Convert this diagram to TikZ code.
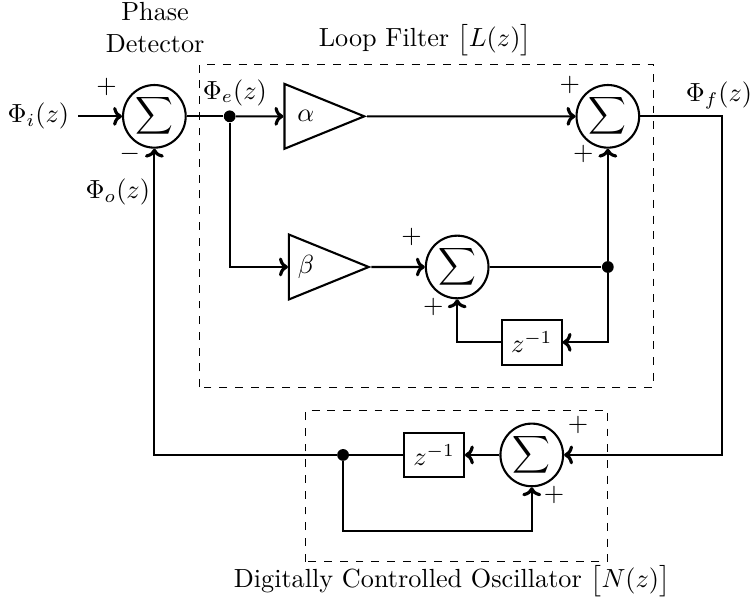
\documentclass[tikz,border=0pt]{standalone}
\usetikzlibrary{shapes.geometric,positioning,arrows.meta}
\tikzset{
  sumnode/.style={draw,circle,thick,minimum size=0.84cm,inner sep=0pt},
  gain/.style={draw,thick,isosceles triangle,isosceles triangle stretches,
    minimum width=0.87cm,minimum height=1.07cm,inner sep=1pt,anchor=west},
  delay/.style={draw,thick,minimum width=0.8cm,minimum height=0.6cm},
  tap/.style={circle,fill,inner sep=0pt,minimum size=4.5pt},
  frame/.style={draw,dashed},
  sgn/.style={inner sep=1pt},
  >={To[length=3.4pt,width=7.2pt,line width=1.2pt]}
}
\newcommand{\sumsign}{$\displaystyle\sum$}
\begin{document}
\begin{tikzpicture}
\useasboundingbox (0,0) rectangle (10.11,8.17);
% blocks
\node[sumnode] (pd) at (2.07,6.61) {\sumsign};
\node[gain] (alpha) at (3.80,6.61) {$\alpha$};
\node[sumnode] (sumf) at (8.15,6.61) {\sumsign};
\node[gain] (beta) at (3.86,4.59) {$\beta$};
\node[sumnode] (sumi) at (6.13,4.59) {\sumsign};
\node[delay] (dly1) at (7.13,3.58) {$z^{-1}$};
\node[sumnode] (sumd) at (7.13,2.07) {\sumsign};
\node[delay] (dly2) at (5.82,2.07) {$z^{-1}$};
\node[tap] (tap1) at (3.08,6.61) {};
\node[tap] (tap2) at (8.15,4.59) {};
\node[tap] (tap3) at (4.60,2.07) {};
\coordinate (turn) at (9.68,2.07);
\coordinate (low) at (4.60,1.05);
% frames and labels
\draw[frame] (2.68,2.98) rectangle (8.76,7.31);
\draw[frame] (4.10,0.64) rectangle (8.15,2.67);
\node[align=center] (pdlabel) at (2.08,7.80) {Phase\\Detector};
\node (lflabel) at (5.70,7.63) {Loop Filter $\big[L(z)\big]$};
\node (dcolabel) at (6.06,0.38) {Digitally Controlled Oscillator $\big[N(z)\big]$};
\node[anchor=east] (phii) at (1.05,6.61) {$\Phi_i(z)$};
\node (phie) at (3.15,6.93) {$\Phi_e(z)$};
\node (phio) at (1.58,5.59) {$\Phi_o(z)$};
\node (phif) at (9.64,6.89) {$\Phi_f(z)$};
\node[sgn] (s1) at (1.43,7.00) {$+$};
\node[sgn] (s2) at (1.74,6.10) {$-$};
\node[sgn] (s3) at (7.64,7.03) {$+$};
\node[sgn] (s4) at (7.82,6.11) {$+$};
\node[sgn] (s5) at (5.52,4.99) {$+$};
\node[sgn] (s6) at (5.81,4.06) {$+$};
\node[sgn] (s7) at (7.75,2.47) {$+$};
\node[sgn] (s8) at (7.43,1.53) {$+$};
% connections
\draw[thick,->] (phii) -- (pd);
\draw[thick] (pd) -- (tap1);
\draw[thick,->] (tap1) -- (alpha);
\draw[thick,->] (alpha.east) -- (sumf);
\draw[thick,->] (tap1) |- (beta);
\draw[thick,->] (beta.east) -- (sumi);
\draw[thick] (sumi) -- (tap2);
\draw[thick,->] (tap2) -- (sumf);
\draw[thick,->] (tap2) |- (dly1);
\draw[thick,->] (dly1) -| (sumi);
\draw[thick,->] (sumf) -| (turn) -- (sumd);
\draw[thick,->] (sumd) -- (dly2);
\draw[thick] (dly2) -- (tap3);
\draw[thick,->] (tap3) -| (pd);
\draw[thick,->] (tap3) -- (low) -| (sumd);
\end{tikzpicture}
\end{document}
